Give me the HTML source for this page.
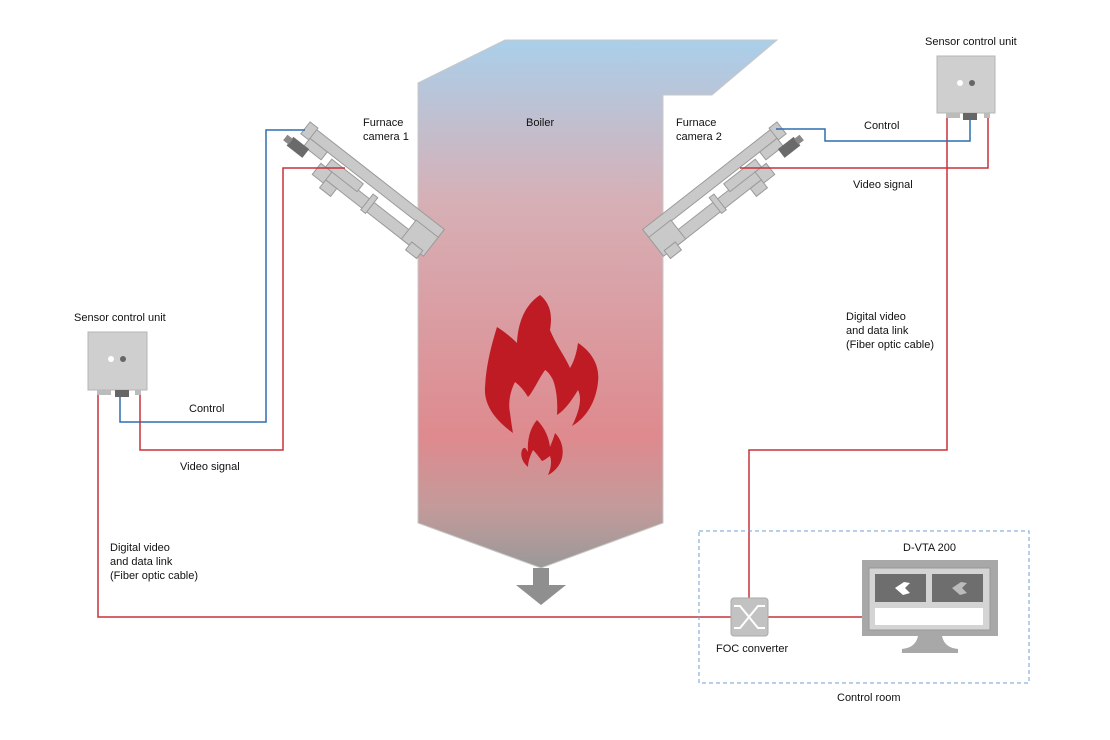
<!DOCTYPE html>
<html><head><meta charset="utf-8"><style>
body{margin:0;background:#fff;}
svg{display:block;font-family:"Liberation Sans",sans-serif;}
text{font-size:11px;fill:#111;}
</style></head><body>
<svg width="1110" height="740" viewBox="0 0 1110 740" xmlns="http://www.w3.org/2000/svg">
<defs>
<linearGradient id="bg" x1="0" y1="40" x2="0" y2="570" gradientUnits="userSpaceOnUse">
<stop offset="0" stop-color="#aacfea"/>
<stop offset="0.3" stop-color="#d6b0b6"/>
<stop offset="0.75" stop-color="#de8a8e"/>
<stop offset="0.88" stop-color="#c49a9a"/>
<stop offset="1" stop-color="#999"/>
</linearGradient>
<g id="cam">
<g fill="#c9c9c9" stroke="#9a9a9a" stroke-width="1">
<rect x="0" y="0" width="168" height="11"/>
<rect x="-4" y="-2" width="10" height="15"/>
<rect x="6" y="11" width="22" height="10"/>
<rect x="40" y="22" width="110" height="12"/>
<rect x="36" y="14" width="40" height="10"/>
<rect x="30" y="24" width="14" height="14"/>
<rect x="44" y="34" width="14" height="10"/>
<rect x="90" y="16" width="6" height="20"/>
<rect x="140" y="10" width="28" height="24"/>
<rect x="150" y="30" width="14" height="10"/>
</g>
<g fill="#6a6a6a"><rect x="-8" y="20" width="20" height="11"/><rect x="-14" y="22" width="7" height="7" fill="#888"/></g>
</g>
</defs>

<polygon points="418,83 505,40 777,40 712,95 663,95 663,523 541,568 418,523" fill="url(#bg)" stroke="#c8c8c8" stroke-width="1"/>
<polygon points="533,568 549,568 549,585 566,585 541,605 516,585 533,585" fill="#8f8f8f"/>

<path d="M540,295 C552,305 552,318 550,330 C556,345 566,358 570,368 C575,360 577,350 578,343 C592,352 600,366 598,382 C596,402 586,418 572,426 C580,410 582,398 578,390 C572,400 565,410 557,415 C558,400 556,388 553,380 C550,374 547,371 545,370 C538,380 533,392 528,397 C524,390 519,385 515,382 C510,392 508,403 510,413 C511,420 512,428 513,433 C495,420 484,405 485,388 C486,365 492,343 497,327 C505,332 512,338 517,343 C518,322 525,305 540,295 Z" fill="#be1b24"/>
<path d="M537,420 C545,428 549,438 550,447 C552,442 554,437 555,433 C562,440 564,450 562,458 C560,466 554,472 548,475 C551,468 552,462 550,456 C547,458 545,460 542,461 C539,457 536,453 533,450 C530,456 528,462 528,467 C522,462 520,455 522,450 C524,446 526,448 528,452 C527,440 530,428 537,420 Z" fill="#be1b24"/>

<g transform="translate(312,126) rotate(38)"><use href="#cam"/></g>
<g transform="translate(1087,0) scale(-1,1)"><g transform="translate(312,126) rotate(38)"><use href="#cam"/></g></g>

<g fill="none" stroke-width="1.5">
<polyline points="305,130 266,130 266,422 120,422 120,395" stroke="#2f6db0"/>
<polyline points="345,168 283,168 283,450 140,450 140,395" stroke="#c8323a"/>
<polyline points="98,395 98,617 731,617" stroke="#c8323a"/>
<polyline points="767,617 862,617" stroke="#c8323a"/>
<polyline points="749,598 749,450 947,450 947,118" stroke="#c8323a"/>
<polyline points="776,129 825,129 825,141 970,141 970,118" stroke="#2f6db0"/>
<polyline points="740,168 988,168 988,118" stroke="#c8323a"/>
</g>

<g>
<rect x="88" y="332" width="59" height="58" fill="#cfcfcf" stroke="#b5b5b5"/>
<circle cx="111" cy="359" r="3" fill="#fff"/><circle cx="123" cy="359" r="3" fill="#666"/>
<rect x="97" y="390" width="14" height="5" fill="#bbb"/><rect x="115" y="390" width="14" height="7" fill="#666"/><rect x="135" y="390" width="6" height="5" fill="#bbb"/>
</g>
<g>
<rect x="937" y="56" width="58" height="57" fill="#cfcfcf" stroke="#b5b5b5"/>
<circle cx="960" cy="83" r="3" fill="#fff"/><circle cx="972" cy="83" r="3" fill="#666"/>
<rect x="946" y="113" width="14" height="5" fill="#bbb"/><rect x="963" y="113" width="14" height="7" fill="#666"/><rect x="984" y="113" width="6" height="5" fill="#bbb"/>
</g>

<rect x="699" y="531" width="330" height="152" fill="none" stroke="#6f9fd0" stroke-dasharray="4,3"/>
<rect x="731" y="598" width="37" height="38" rx="3" fill="#c2c2c2" stroke="#aaa"/>
<path d="M734,606 L740,606 L758,628 L765,628 M734,628 L740,628 L758,606 L765,606" stroke="#fff" stroke-width="2" fill="none"/>
<rect x="862" y="560" width="136" height="76" fill="#a8a8a8"/>
<rect x="869" y="568" width="121" height="62" fill="#d4d4d4" stroke="#999"/>
<rect x="875" y="574" width="51" height="28" fill="#6e6e6e"/>
<rect x="932" y="574" width="51" height="28" fill="#6e6e6e"/>
<rect x="875" y="608" width="108" height="17" fill="#fff"/>
<path d="M895,588 L904,582 L910,583 L905,588 L910,593 L903,595 Z" fill="#fff"/>
<path d="M952,588 L961,582 L967,583 L962,588 L967,593 L960,595 Z" fill="#bbb"/>
<path d="M918,636 L942,636 C944,645 950,648 958,649 L958,653 L902,653 L902,649 C910,648 916,645 918,636 Z" fill="#a8a8a8"/>

<text x="363" y="126">Furnace</text><text x="363" y="140">camera 1</text>
<text x="526" y="126">Boiler</text>
<text x="676" y="126">Furnace</text><text x="676" y="140">camera 2</text>
<text x="925" y="45">Sensor control unit</text>
<text x="864" y="129">Control</text>
<text x="853" y="188">Video signal</text>
<text x="846" y="320">Digital video</text><text x="846" y="334">and data link</text><text x="846" y="348">(Fiber optic cable)</text>
<text x="74" y="321">Sensor control unit</text>
<text x="189" y="412">Control</text>
<text x="180" y="470">Video signal</text>
<text x="110" y="551">Digital video</text><text x="110" y="565">and data link</text><text x="110" y="579">(Fiber optic cable)</text>
<text x="903" y="551">D-VTA 200</text>
<text x="716" y="652">FOC converter</text>
<text x="837" y="701">Control room</text>
</svg>
</body></html>
